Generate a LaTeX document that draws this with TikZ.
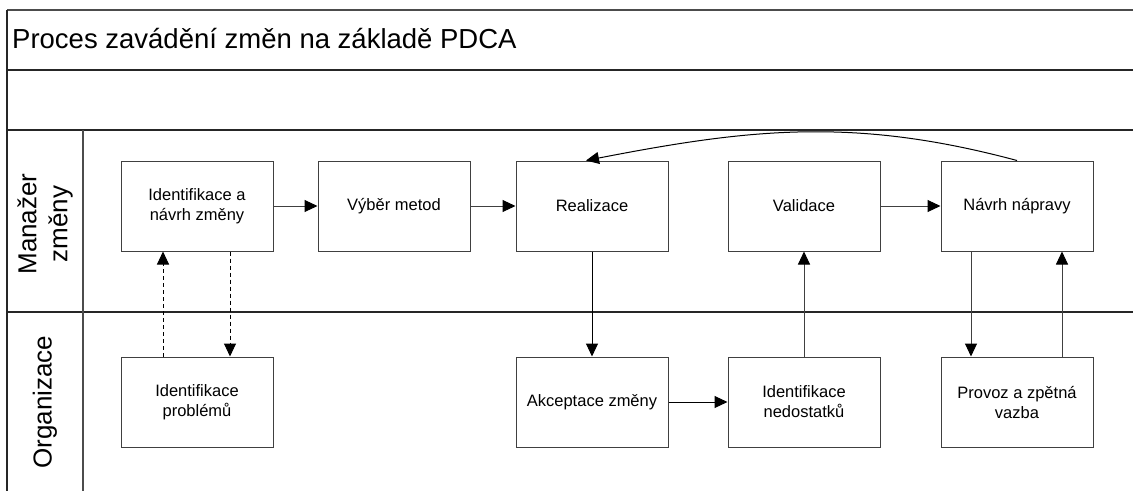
\documentclass[tikz,border=0pt]{standalone}
\usepackage{fontspec}
\setmainfont{Liberation Sans}
\usetikzlibrary{arrows.meta}
\begin{document}
\begin{tikzpicture}[x=1pt,y=-1pt,
  frameline/.style={draw=black!85,line width=1.1pt},
  procbox/.style={draw=black!75,line width=1pt,rectangle,minimum width=152pt,minimum height=90pt,inner sep=0pt,align=center,font=\fontsize{16.5}{20}\selectfont},
  flow/.style={draw=black!75,line width=1pt,-{Triangle[length=13pt,width=12pt,color=black]}},
  dflow/.style={flow,dash pattern=on 4pt off 3pt}]
\useasboundingbox (0,0) rectangle (1133,491);
% frame
\draw[frameline,draw=black!70,line width=1.6pt] (7,10) -- (1133,10);
\draw[frameline] (7,10) -- (7,491);
\draw[frameline] (7,70) -- (1133,70);
\draw[frameline] (7,130) -- (1133,130);
\draw[frameline] (7,312) -- (1133,312);
\draw[frameline,draw=black!70] (83,130) -- (83,491);
% title and lanes
\node[anchor=base west,inner sep=0pt,font=\fontsize{27.5}{32}\selectfont] (title) at (12,48) {Proces zavádění změn na základě PDCA};
\node[rotate=90,align=center,inner sep=0pt,font=\fontsize{26}{31}\selectfont] (lane1) at (45,224) {Manažer\\změny};
\node[rotate=90,align=center,inner sep=0pt,font=\fontsize{26}{31}\selectfont] (lane2) at (45,402) {Organizace};
% boxes
\node[procbox] (idz) at (197,206) {Identifikace a\\návrh změny};
\node[procbox] (vyber) at (394,206) {Výběr metod};
\node[procbox] (real) at (592,206) {Realizace};
\node[procbox] (valid) at (804,206) {Validace};
\node[procbox] (navrh) at (1017,206) {Návrh nápravy};
\node[procbox] (prob) at (197,402) {Identifikace\\problémů};
\node[procbox] (akc) at (592,402) {Akceptace změny};
\node[procbox] (ined) at (804,402) {Identifikace\\nedostatků};
\node[procbox] (prov) at (1017,402) {Provoz a zpětná\\vazba};
% connectors
\draw[flow] (idz) -- (vyber);
\draw[flow] (vyber) -- (real);
\draw[flow] (valid) -- (navrh);
\draw[flow,draw=black] (akc) -- (ined);
\draw[flow,draw=black] (real.south) -- (akc.north);
\draw[flow] (ined.north) -- (valid.south);
\draw[flow] ([xshift=-46pt]navrh.south) -- ([xshift=-46pt]prov.north);
\draw[flow] ([xshift=45pt]prov.north) -- ([xshift=45pt]navrh.south);
\draw[dflow,draw=black] ([xshift=-34pt]prob.north) -- ([xshift=-34pt]idz.south);
\draw[dflow,draw=black] ([xshift=33pt]idz.south) -- ([xshift=33pt]prob.north);
\draw[flow,draw=black] (navrh.north) to[out=165,in=11] ([xshift=-6pt]real.north);
\end{tikzpicture}
\end{document}
